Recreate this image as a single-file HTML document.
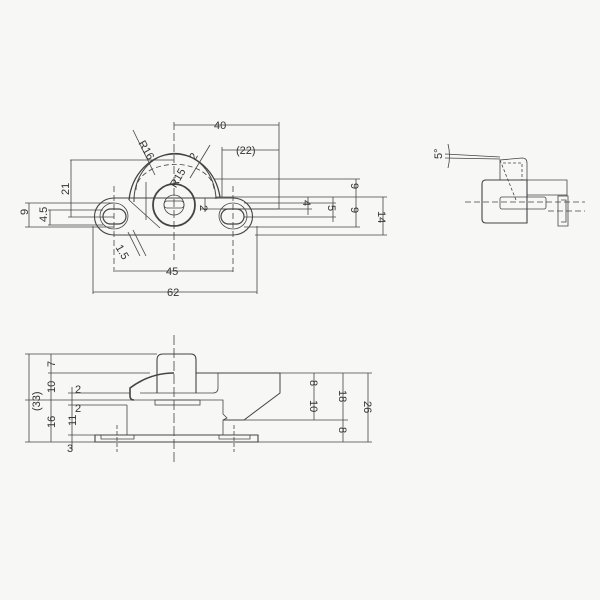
<!DOCTYPE html>
<html><head><style>
html,body{margin:0;padding:0;background:#f7f7f5;}
svg{display:block}
text{font-family:"Liberation Sans",sans-serif;font-size:11px;fill:#333;}
</style></head><body>
<svg width="600" height="600" viewBox="0 0 600 600" xmlns="http://www.w3.org/2000/svg">
<rect width="600" height="600" fill="#f7f7f5"/>
<g stroke="#444" fill="none" stroke-width="0.8">
<!-- TOP VIEW -->
<line x1="174" y1="122" x2="174" y2="260" stroke-dasharray="8,3"/>
<line x1="114" y1="186" x2="114" y2="272" stroke-dasharray="6,3"/>
<line x1="233" y1="186" x2="233" y2="272" stroke-dasharray="6,3"/>
<!-- base -->
<path d="M114,198 L233,198 A19,18 0 0 1 233,235 L114,235 A19,18 0 0 1 114,198 Z" stroke-width="1.1"/>
<path d="M114,203 A14,13 0 0 0 114,229 A14,13 0 0 0 114,203" />
<path d="M233,203 A14,13 0 0 1 233,229 A14,13 0 0 1 233,203" />
<rect x="103" y="209" width="23" height="15" rx="7.5" stroke-width="1.2"/>
<rect x="221" y="209" width="23" height="15" rx="7.5" stroke-width="1.2"/>
<!-- dome -->
<path d="M129,200 A46,52 0 0 1 220,197" stroke-width="1.3"/>
<path d="M134,202 A40,46 0 0 1 216,199" stroke-width="1"/>
<path d="M136,190 A38,25 0 0 1 214,190" stroke-dasharray="5,3"/>
<circle cx="174" cy="205" r="21" stroke-width="1.8"/>
<circle cx="174" cy="205" r="10"/>
<rect x="164" y="201" width="20" height="7" rx="3"/>
<line x1="129" y1="200" x2="160" y2="228"/>
<line x1="146" y1="182" x2="146" y2="220"/>
<!-- lever -->
<path d="M216,197 L279,197 L279,209 L222,209" />
<!-- leaders -->
<line x1="133" y1="130" x2="155" y2="175"/>
<line x1="210" y1="145" x2="190" y2="178"/>
<line x1="160" y1="226" x2="160" y2="226"/>
<line x1="133" y1="230" x2="146" y2="256"/>
<line x1="128" y1="232" x2="140" y2="256"/>
<!-- dims top -->
<line x1="174" y1="125" x2="279" y2="125"/><line x1="279" y1="122" x2="279" y2="197"/>
<line x1="222" y1="150" x2="279" y2="150"/><line x1="222" y1="147" x2="222" y2="197"/>
<line x1="70" y1="160" x2="174" y2="160"/><line x1="71" y1="160" x2="71" y2="217"/>
<line x1="68" y1="217" x2="114" y2="217"/>
<line x1="25" y1="203" x2="114" y2="203"/><line x1="29" y1="203" x2="29" y2="227"/>
<line x1="25" y1="227" x2="114" y2="227"/>
<line x1="48" y1="210" x2="103" y2="210"/><line x1="50" y1="210" x2="50" y2="225"/>
<line x1="48" y1="225" x2="103" y2="225"/>
<line x1="115" y1="271" x2="233" y2="271"/>
<line x1="93" y1="226" x2="93" y2="294"/><line x1="257" y1="226" x2="257" y2="294"/>
<line x1="93" y1="292" x2="257" y2="292"/>
<line x1="214" y1="179" x2="360" y2="179"/>
<line x1="279" y1="197" x2="387" y2="197"/>
<line x1="244" y1="203" x2="336" y2="203"/>
<line x1="200" y1="209" x2="312" y2="209"/>
<line x1="244" y1="217" x2="336" y2="217"/>
<line x1="244" y1="227" x2="360" y2="227"/>
<line x1="255" y1="235" x2="387" y2="235"/>
<line x1="356" y1="179" x2="356" y2="227"/>
<line x1="383" y1="197" x2="383" y2="235"/>
<line x1="308" y1="197" x2="308" y2="215"/>
<line x1="333" y1="197" x2="333" y2="222"/>
<line x1="205" y1="198" x2="205" y2="212"/>
</g>
<g fill="#333">
<text x="214" y="129">40</text>
<text x="236" y="154">(22)</text>
<text x="58" y="192" transform="rotate(-90 65 188)">21</text>
<text x="25" y="218" transform="rotate(-90 25 215)">9</text>
<text x="37" y="222" transform="rotate(-90 42 217)">4.5</text>
<text x="166" y="275">45</text>
<text x="167" y="296">62</text>
<text x="351" y="191" transform="rotate(90 355 187)">9</text>
<text x="351" y="215" transform="rotate(90 355 211)">9</text>
<text x="378" y="219" transform="rotate(90 382 215)">14</text>
<text x="303" y="208" transform="rotate(90 307 204)">4</text>
<text x="328" y="213" transform="rotate(90 332 209)">5</text>
<text x="140" y="150" transform="rotate(60 145 145)">R16</text>
<text x="168" y="185" transform="rotate(-60 175 180)">R15</text>
<text x="190" y="158" transform="rotate(-60 195 155)">2</text>
<text x="200" y="215" transform="rotate(90 205 210)">2</text>
<text x="116" y="258" transform="rotate(60 125 252)">1.5</text>
</g>

<g stroke="#444" fill="none" stroke-width="0.8">
<!-- SIDE VIEW -->
<line x1="174" y1="335" x2="174" y2="462" stroke-dasharray="10,3"/>
<line x1="117" y1="425" x2="117" y2="452" stroke-dasharray="4,2"/>
<line x1="234" y1="425" x2="234" y2="452" stroke-dasharray="4,2"/>
<path d="M157,393 L157,360 Q157,354 163,354 L191,354 Q196,354 196,360 L196,393" stroke-width="1.1"/>
<path d="M196,373 L280,373 L280,393 L244,420 L223,420" stroke-width="1"/>
<path d="M196,373 L218,373 L218,388 Q218,393 213,393 L140,393"/>
<path d="M174,373 Q150,373 130,388 L130,396 Q130,400 134,400" stroke-width="1.6"/>
<path d="M130,400 L223,400 L223,414 L227,418 L223,420 L223,435"/>
<rect x="155" y="400" width="45" height="5"/>
<path d="M127,405 L127,435 M223,405"/>
<path d="M95,435 L258,435 L258,442 L95,442 Z" stroke-width="1.1"/>
<path d="M101,435 L101,439 L134,439 L134,435 M219,435 L219,439 L250,439 L250,435"/>
<!-- side dims -->
<line x1="25" y1="354" x2="157" y2="354"/>
<line x1="48" y1="373" x2="150" y2="373"/>
<line x1="68" y1="393" x2="130" y2="393"/>
<line x1="25" y1="400" x2="130" y2="400"/>
<line x1="68" y1="405" x2="127" y2="405"/>
<line x1="68" y1="435" x2="95" y2="435"/>
<line x1="25" y1="442" x2="95" y2="442"/>
<line x1="29" y1="354" x2="29" y2="442"/>
<line x1="51" y1="354" x2="51" y2="442"/>
<line x1="72" y1="387" x2="72" y2="450"/>
<line x1="280" y1="373" x2="372" y2="373"/>
<line x1="244" y1="420" x2="348" y2="420"/>
<line x1="258" y1="442" x2="372" y2="442"/>
<line x1="314" y1="373" x2="314" y2="420"/>
<line x1="343" y1="373" x2="343" y2="442"/>
<line x1="368" y1="373" x2="368" y2="442"/>
</g>
<g fill="#333">
<text x="20" y="405" transform="rotate(-90 33 398)">(33)</text>
<text x="47" y="367" transform="rotate(-90 51 363)">7</text>
<text x="44" y="390" transform="rotate(-90 51 386)">10</text>
<text x="44" y="425" transform="rotate(-90 51 421)">16</text>
<text x="75" y="393">2</text>
<text x="75" y="412">2</text>
<text x="66" y="424" transform="rotate(-90 72 420)">11</text>
<text x="67" y="452">3</text>
<text x="310" y="388" transform="rotate(90 314 384)">8</text>
<text x="307" y="411" transform="rotate(90 314 407)">10</text>
<text x="336" y="401" transform="rotate(90 343 397)">18</text>
<text x="339" y="435" transform="rotate(90 343 431)">8</text>
<text x="361" y="412" transform="rotate(90 368 408)">26</text>
</g>

<g stroke="#444" fill="none" stroke-width="0.8">
<!-- RIGHT VIEW -->
<path d="M527,180 L567,180 L567,196"/>
<path d="M486,180 L527,180 L527,223 L486,223 Q482,223 482,219 L482,184 Q482,180 486,180 Z" stroke-width="1.1"/>
<path d="M500,180 L500,160 L522,158 Q527,158 527,163 L527,180"/>
<path d="M500,160 L516,200 M503,163 L522,163 L522,180 L504,180" stroke-dasharray="3,2"/>
<rect x="500" y="197" width="46" height="12" rx="2"/>
<path d="M527,195 L567,195 M558,196 L568,196 L568,226 L558,226 Z"/>
<path d="M561,200 L566,200 L566,222 L561,222"/>
<line x1="465" y1="202" x2="585" y2="202" stroke-dasharray="6,3"/>
<line x1="548" y1="211" x2="585" y2="211" stroke-dasharray="6,3"/>
<line x1="445" y1="154" x2="500" y2="157"/>
<line x1="445" y1="158" x2="500" y2="159"/>
<path d="M448,144 Q451,156 448,168"/>
</g>
<text x="433" y="160" transform="rotate(-90 437 155)">5°</text>
</svg>
</body></html>
